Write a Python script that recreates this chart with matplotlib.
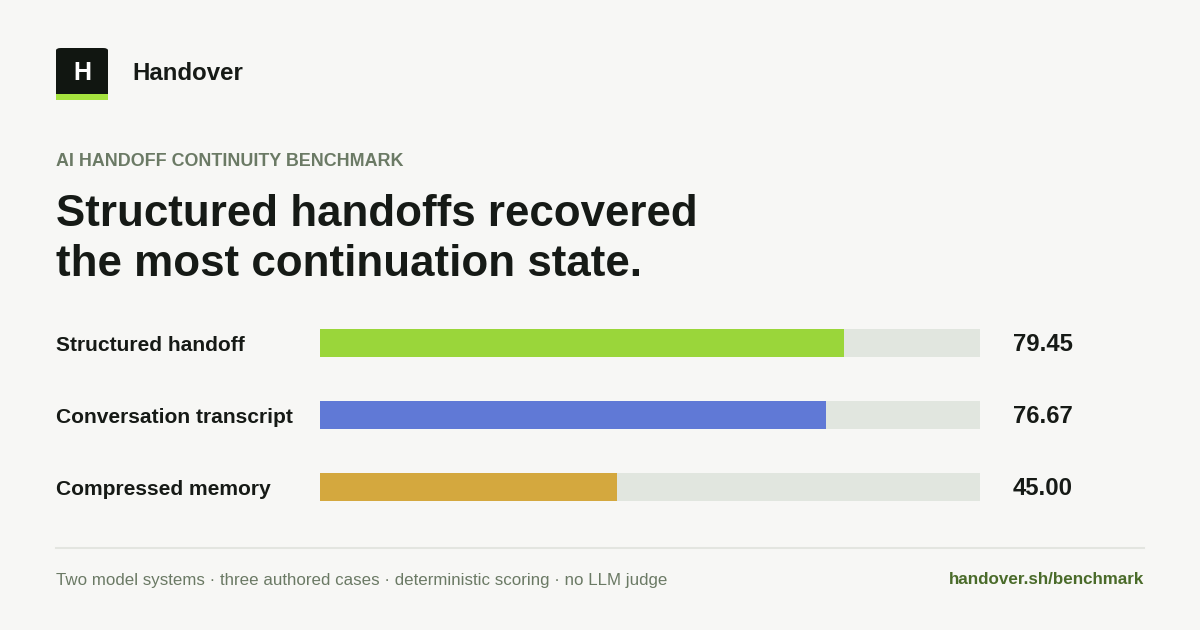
import matplotlib.pyplot as plt
import matplotlib.transforms as mtransforms
from matplotlib.patches import FancyBboxPatch, Rectangle

plt.rcParams['font.family'] = ['Liberation Sans', 'DejaVu Sans']

# --- Data ---
categories = ['Structured handoff', 'Conversation transcript', 'Compressed memory']
scores = [79.45, 76.67, 45.00]
bar_colors = ['#9ad63a', '#6079d6', '#d4a83e']
max_score = 100

W, H = 1200, 630
BG = '#f7f7f5'
DARK = '#161a16'
MUTED = '#6b7a65'

fig = plt.figure(figsize=(W / 100, H / 100), dpi=100)
fig.patch.set_facecolor(BG)


def fx(px):
    return px / W


def fy(py):
    return 1 - py / H


# logo mark
logo = FancyBboxPatch((fx(56), fy(100)), fx(52), fy(48) - fy(100),
                      boxstyle='round,pad=0,rounding_size=0.004',
                      transform=fig.transFigure, facecolor='#111611', edgecolor='none')
fig.patches.append(logo)
fig.patches.append(Rectangle((fx(56), fy(100)), fx(52), fy(94) - fy(100),
                             transform=fig.transFigure, facecolor='#a6e33f', edgecolor='none'))
fig.text(fx(82), fy(73), 'H', color='white', fontsize=18, fontweight='bold',
         ha='center', va='center')
fig.text(fx(132), fy(73), 'Handover', color=DARK, fontsize=17.3, fontweight='bold',
         ha='left', va='center')

# headings
fig.text(fx(56), fy(162), 'AI HANDOFF CONTINUITY BENCHMARK', color=MUTED, fontsize=12.9,
         fontweight='bold', ha='left', va='center')
fig.text(fx(56), fy(214), 'Structured handoffs recovered', color=DARK, fontsize=31.6,
         fontweight='bold', ha='left', va='center')
fig.text(fx(56), fy(264), 'the most continuation state.', color=DARK, fontsize=31.6,
         fontweight='bold', ha='left', va='center')

# bars
top, bottom = 307, 523
ax = fig.add_axes([fx(320), fy(bottom), fx(660), fy(top) - fy(bottom)])
ax.set_facecolor('none')
rows = list(range(len(categories)))
ax.barh(rows, [max_score] * len(rows), height=28 / 72, color='#e1e6df', edgecolor='none')
ax.barh(rows, scores, height=28 / 72, color=bar_colors, edgecolor='none')
ax.set_xlim(0, max_score)
ax.set_ylim(len(rows) - 0.5, -0.5)
ax.axis('off')

blend = mtransforms.blended_transform_factory(fig.transFigure, ax.transData)
for i, (name, val) in enumerate(zip(categories, scores)):
    ax.text(fx(56), i + 0.03, name, transform=blend, color=DARK, fontsize=15.1,
            fontweight='bold', ha='left', va='center')
    ax.text(fx(1013), i + 0.02, f'{val:.2f}', transform=blend, color=DARK, fontsize=17.2,
            fontweight='bold', ha='left', va='center')

# footer
fig.add_artist(plt.Line2D([fx(56), fx(1144)], [fy(548), fy(548)], transform=fig.transFigure,
                          color='#e3e5e0', linewidth=1.5))
fig.text(fx(56), fy(580), 'Two model systems · three authored cases · deterministic scoring · no LLM judge',
         color=MUTED, fontsize=12.2, ha='left', va='center')
fig.text(fx(1144), fy(580), 'handover.sh/benchmark', color='#4a6b2a', fontsize=12.25,
         fontweight='bold', ha='right', va='center')

fig.savefig('out.png', dpi=100, facecolor=BG)
